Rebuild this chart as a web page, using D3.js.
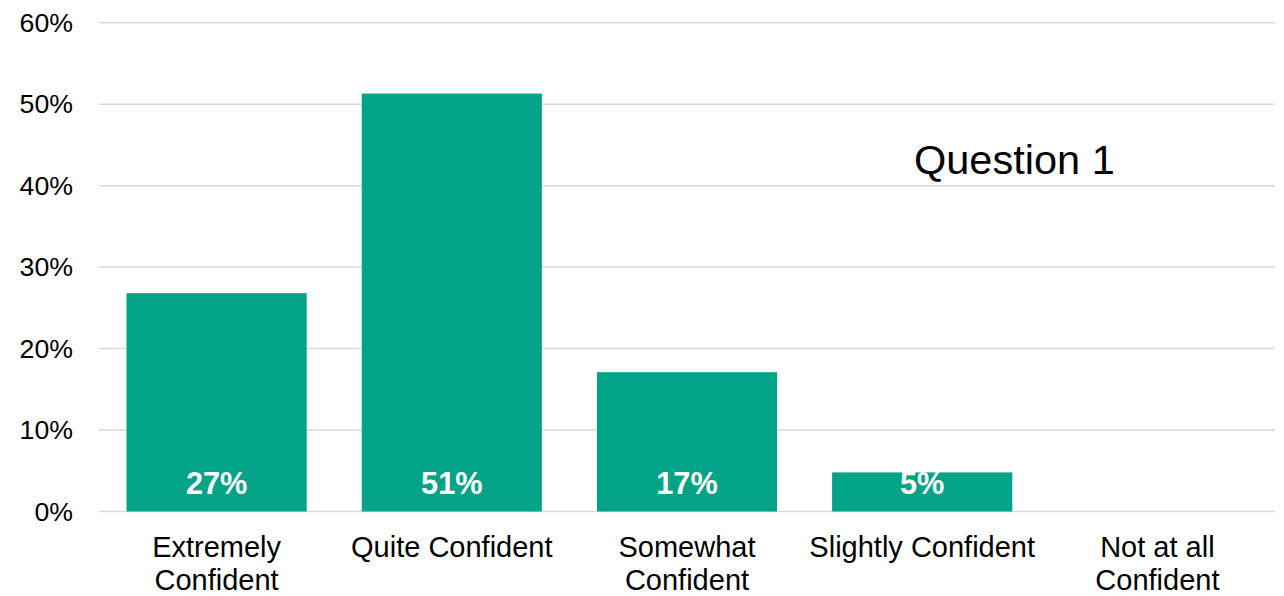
<!DOCTYPE html>
<html>
<head>
<meta charset="utf-8">
<script src="https://cdn.jsdelivr.net/npm/d3@7"></script>
<style>
  html, body { margin: 0; padding: 0; background: #fff; }
  svg { display: block; font-family: "Liberation Sans", Arial, sans-serif; }
</style>
</head>
<body>
<svg id="chart" width="1284" height="596"></svg>
<script>
const categories = ["Extremely Confident", "Quite Confident", "Somewhat Confident", "Slightly Confident", "Not at all Confident"];
const categoryLines = [["Extremely", "Confident"], ["Quite Confident"], ["Somewhat", "Confident"], ["Slightly Confident"], ["Not at all", "Confident"]];
const values = [0.268, 0.513, 0.171, 0.048, 0];
const yTicks = [0, 0.1, 0.2, 0.3, 0.4, 0.5, 0.6];
const chartTitle = "Question 1";

const svg = d3.select("#chart");
const margin = { left: 99, right: 9, top: 22.7, bottom: 84.5 };
const W = 1284, H = 596;

const x = d3.scaleBand().domain(categories).range([margin.left, W - margin.right]).paddingInner(0.234).paddingOuter(0.117);
const y = d3.scaleLinear().domain([0, 0.6]).range([H - margin.bottom, margin.top]);

// gridlines
svg.append("g").selectAll("line").data(yTicks).join("line")
  .attr("x1", margin.left).attr("x2", W - margin.right)
  .attr("y1", d => y(d)).attr("y2", d => y(d))
  .attr("stroke", "#d9d9d9").attr("stroke-width", 1.5);

// y axis labels
const yAxis = d3.axisLeft(y).tickValues(yTicks).tickFormat(d3.format(".0%")).tickSize(0).tickPadding(26);
const yg = svg.append("g").attr("transform", `translate(${margin.left},0)`).call(yAxis);
yg.select(".domain").remove();
yg.selectAll("text").attr("font-size", 26.7).attr("fill", "#000").attr("font-family", "Liberation Sans, Arial, sans-serif");

// bars
svg.append("g").selectAll("rect").data(values).join("rect")
  .attr("x", (d, i) => x(categories[i]))
  .attr("width", x.bandwidth())
  .attr("y", d => y(d))
  .attr("height", d => y(0) - y(d))
  .attr("fill", "#02a386");

// value labels
svg.append("g").selectAll("text").data(values.filter(v => v > 0)).join("text")
  .attr("x", (d, i) => x(categories[i]) + x.bandwidth() / 2)
  .attr("y", y(0) - 17.5)
  .attr("text-anchor", "middle")
  .attr("font-size", 30.7).attr("font-weight", "bold").attr("fill", "#fff")
  .text(d => d3.format(".0%")(d));

// category labels
const cg = svg.append("g").selectAll("text").data(categories).join("text")
  .attr("text-anchor", "middle")
  .attr("font-size", 29).attr("fill", "#000");
cg.each(function(d, i) {
  const t = d3.select(this);
  categoryLines[i].forEach((line, j) => {
    t.append("tspan").attr("x", x(d) + x.bandwidth() / 2).attr("y", 556.5 + j * 33.5).text(line);
  });
});

// title
svg.append("text").attr("x", 914).attr("y", 174).attr("font-size", 41.5).attr("fill", "#000").text(chartTitle);
</script>
</body>
</html>
